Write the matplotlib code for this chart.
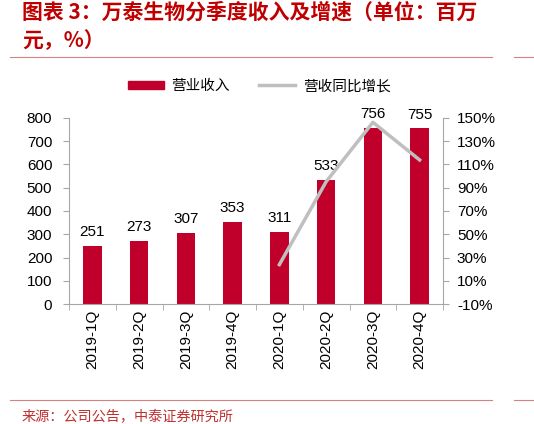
import matplotlib
matplotlib.use("Agg")
import matplotlib.pyplot as plt
from matplotlib.lines import Line2D
from matplotlib.patches import Patch

categories = ["2019-1Q", "2019-2Q", "2019-3Q", "2019-4Q",
              "2020-1Q", "2020-2Q", "2020-3Q", "2020-4Q"]
revenue = [251, 273, 307, 353, 311, 533, 756, 755]
growth_idx = [4, 5, 6, 7]
growth = [23.9, 95.2, 146.3, 113.9]
left_ticks = list(range(0, 801, 100))
right_ticks = list(range(-10, 151, 20))

plt.rcParams['font.family'] = ['Liberation Sans', 'Noto Sans CJK SC', 'DejaVu Sans']

BAR = "#C0002B"
LINE = "#BFBFBF"
SPINE = "#A6A6A6"
TITLE = "#C00000"
cjk = ['Noto Sans CJK SC', 'DejaVu Sans']
FS = 11

fig = plt.figure(figsize=(5.34, 4.24), dpi=100)
ax = fig.add_axes([69/534, 1-304/424, (443-69)/534, (304-118)/424])
x = list(range(len(categories)))
bars = ax.bar(x, revenue, width=0.4, color=BAR, zorder=2)
ax.bar_label(bars, labels=[str(v) for v in revenue], padding=5, fontsize=FS)
ax.set_xlim(-0.5, len(categories) - 0.5)
ax.set_ylim(0, 800)
ax.set_yticks(left_ticks)
ax.set_yticklabels([str(t) for t in left_ticks], fontsize=FS)
ax.set_xticks(x)
ax.set_xticklabels(categories, rotation=90, fontsize=FS)
ax.set_xticks([i + 0.5 for i in range(-1, len(categories))], minor=True)
ax.tick_params(axis='x', which='major', length=0, pad=4)
ax.tick_params(axis='x', which='minor', length=4, color=SPINE, direction='out')
ax.tick_params(axis='y', length=4, color=SPINE, pad=8)

ax2 = ax.twinx()
ax2.plot(growth_idx, growth, color=LINE, lw=2.5, zorder=3)
ax2.set_ylim(-10, 150)
ax2.set_yticks(right_ticks)
ax2.set_yticklabels([f"{t}%" for t in right_ticks], fontsize=FS)
ax2.tick_params(axis='y', length=4, color=SPINE, pad=6)

for a in (ax, ax2):
    a.spines['top'].set_visible(False)
    for s in ('left', 'right', 'bottom'):
        a.spines[s].set_color(SPINE)
ax.spines['right'].set_visible(False)
ax2.spines['left'].set_visible(False)
ax2.spines['bottom'].set_visible(False)

handles = [Patch(color=BAR), Line2D([], [], color=LINE, lw=2.5)]
fig.legend(handles, ["营业收入", "营收同比增长"], loc='center',
           bbox_to_anchor=(259/534, 1-86/424), ncol=2, frameon=False,
           prop={'family': cjk, 'size': 10.5}, handlelength=2.5,
           handleheight=0.45, columnspacing=2.0, handletextpad=0.5)

fig.text(22/534, 1-12/424, "图表 3：万泰生物分季度收入及增速（单位：百万",
         color=TITLE, fontsize=15, fontweight='bold', family=cjk,
         va='center', ha='left', style='italic')
fig.text(22/534, 1-41/424, "元，%）",
         color=TITLE, fontsize=15, fontweight='bold', family=cjk,
         va='center', ha='left', style='italic')

for yy in (57, 400):
    fig.add_artist(Line2D([10/534, 492/534], [1-yy/424, 1-yy/424],
                          color="#D88080", lw=0.8))
    fig.add_artist(Line2D([514/534, 1.0], [1-yy/424, 1-yy/424],
                          color="#D88080", lw=0.8))

fig.text(22/534, 1-417/424, "来源：公司公告，中泰证券研究所", color="#C03030",
         fontsize=10.2, family=cjk, va='center', ha='left')

fig.savefig("out.png", dpi=100)
